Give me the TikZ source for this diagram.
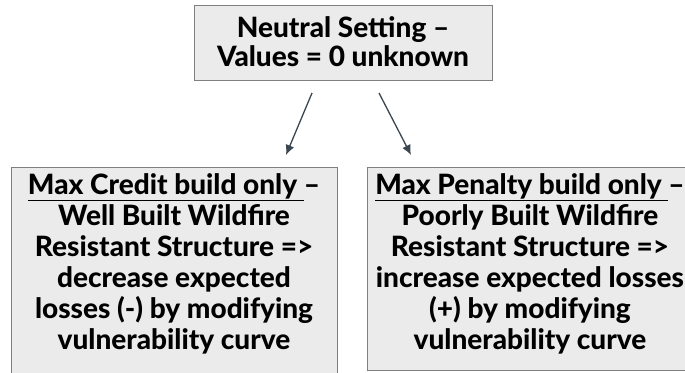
\documentclass[tikz,border=0pt]{standalone}
\usepackage{fontspec}
\setmainfont{Lato}[BoldFont={Lato Heavy}]
\usetikzlibrary{arrows.meta}
\definecolor{boxfill}{HTML}{EBEBEB}
\definecolor{boxline}{HTML}{7F7F7F}
\definecolor{arrowcol}{HTML}{3A4650}
\tikzset{
  panel/.style={draw=boxline, fill=boxfill, line width=1pt, rectangle, inner sep=0pt},
  label/.style={align=center, font=\bfseries\fontsize{28}{31}\selectfont, inner sep=0pt},
  flow/.style={draw=arrowcol, line width=1.3pt, -{Latex[length=10pt,width=9pt]}}
}
\begin{document}
\begin{tikzpicture}[x=1pt,y=1pt]
  \useasboundingbox (0,0) rectangle (685,-372);
  % top box
  \node[panel, minimum width=298pt, minimum height=75pt] (top) at (343,-42.5) {};
  \node[label, anchor=north, font=\bfseries\fontsize{28}{29.5}\selectfont] (toptext) at (343,-16)
    {Neutral Setting --\\Values = 0 unknown};
  % lower boxes
  \node[panel, minimum width=326pt, minimum height=208pt] (left) at (174,-271) {};
  \node[panel, minimum width=326pt, minimum height=203pt] (right) at (530,-268.5) {};
  \node[label, anchor=north] (lefttext) at (174,-173)
    {\underline{Max Credit build only }--\\Well Built Wildfire\\Resistant Structure =>\\decrease expected\\losses (-) by modifying\\vulnerability curve};
  \node[label, anchor=north] (righttext) at (530,-173)
    {\underline{Max Penalty build only }--\\Poorly Built Wildfire\\Resistant Structure =>\\increase expected losses\\(+) by modifying\\vulnerability curve};
  % connectors
  \coordinate (s1) at (312,-93);
  \coordinate (e1) at (286,-155);
  \coordinate (s2) at (379,-93);
  \coordinate (e2) at (411,-155);
  \draw[flow] (s1) -- (e1);
  \draw[flow] (s2) -- (e2);
\end{tikzpicture}
\end{document}
